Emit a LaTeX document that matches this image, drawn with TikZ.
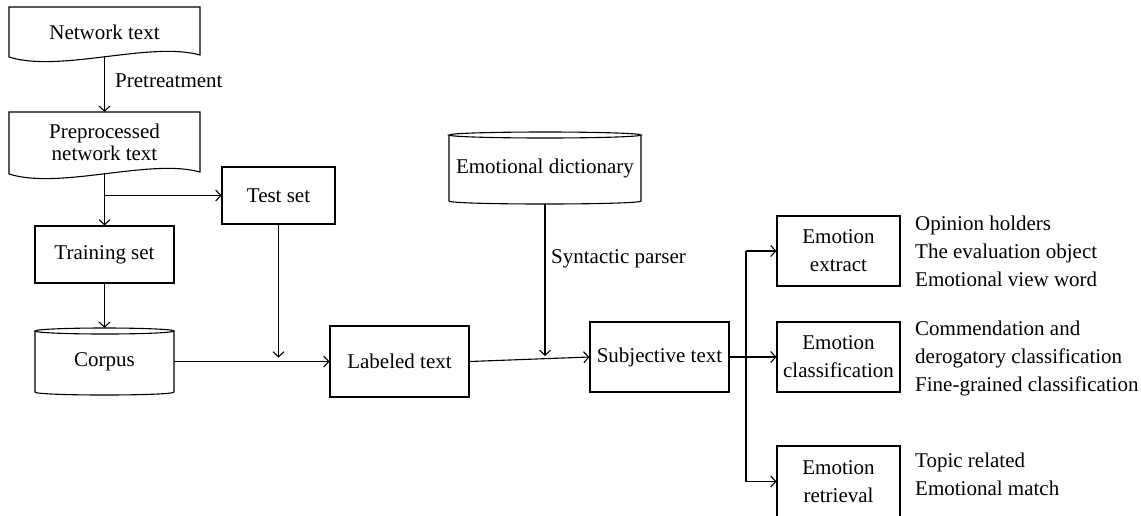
\documentclass[tikz,border=0pt]{standalone}
\usepackage{fontspec}
\setmainfont{Liberation Serif}
\usetikzlibrary{arrows.meta,calc}
\begin{document}
\begin{tikzpicture}[x=1pt,y=-1pt,
  base/.style={font=\fontsize{21}{28}\selectfont, align=center, inner sep=0pt},
  box/.style={base, draw, line width=1.1pt},
  ln/.style={line width=1.1pt},
  arr/.style={ln, -{Straight Barb[length=5pt,width=11pt]}},
  lbl/.style={base, anchor=west, align=left}]
\useasboundingbox (0,0) rectangle (1141,515);

% document shapes
\node[base, minimum width=191pt, minimum height=50pt] (net) at (104.5,32) {Network text};
\draw[ln] (9,7) -- (200,7) -- (200,55) .. controls (150,41) and (60,73) .. (9,57) -- cycle;
\node[base, minimum width=191pt, minimum height=61pt, font=\fontsize{21}{22}\selectfont] (pre) at (104.5,142.5) {Preprocessed\\network text};
\draw[ln] (9,112) -- (200,112) -- (200,172) .. controls (150,158) and (60,190) .. (9,174) -- cycle;

% boxes
\node[box, minimum width=113pt, minimum height=57pt] (test) at (278.5,195.5) {Test set};
\node[box, minimum width=139pt, minimum height=57pt] (train) at (104.5,254.5) {Training set};
\node[box, minimum width=139pt, minimum height=71pt] (lab) at (399.5,361.5) {Labeled text};
\node[box, minimum width=139pt, minimum height=70pt] (subj) at (659.5,357) {Subjective text};
\node[box, minimum width=123pt, minimum height=70pt] (ext) at (838.5,251) {Emotion\\extract};
\node[box, minimum width=123pt, minimum height=70pt] (cls) at (838.5,357) {Emotion\\classification};
\node[box, minimum width=123pt, minimum height=71pt] (ret) at (838.5,481.5) {Emotion\\retrieval};

% cylinders
\node[base, minimum width=139pt, minimum height=67pt] (corpus) at (104.5,361.5) {Corpus};
\draw[ln] (104.5,331) ellipse [x radius=69.5, y radius=3];
\draw[ln] (35,331) -- (35,392) .. controls (35,396) and (174,396) .. (174,392) -- (174,331);
\node[base, minimum width=192pt, minimum height=72pt] (dict) at (545,168) {Emotional dictionary};
\draw[ln] (545,135) ellipse [x radius=96, y radius=3];
\draw[ln] (449,135) -- (449,201) .. controls (449,205) and (641,205) .. (641,201) -- (641,135);

% labels
\node[base, anchor=west] (pl) at (115,81) {Pretreatment};
\node[base, anchor=west] (sp) at (551,259) {Syntactic parser};
\node[lbl] (t1) at (915,251) {Opinion holders\\The evaluation object\\Emotional view word};
\node[lbl] (t2) at (915,358) {Commendation and\\derogatory classification\\Fine-grained classification};
\node[lbl] (t3) at (915,474) {Topic related\\Emotional match};

% connectors
\draw[arr] (net.south) -- (pre.north);
\draw[arr] (pre.south) -- (train.north);
\coordinate (b1) at (pre.south |- test.west);
\draw[arr] (b1) -- (test.west);
\draw[arr] (train.south) -- (corpus.north);
\draw[arr] (corpus.east) -- (lab.west);
\coordinate (j1) at ($(test.south |- lab.west)+(0,-4)$);
\draw[arr] (test.south) -- (j1);
\draw[arr] (lab.east) -- (subj.west);
\coordinate (j2) at (545,356);
\draw[arr] (dict.south) -- (j2);
\coordinate (t) at (746,357);
\draw[arr] (subj.east) -- (cls.west);
\draw[ln] (t |- ext.west) -- (t |- ret.west);
\draw[arr] (t |- ext.west) -- (ext.west);
\draw[arr] (t |- ret.west) -- (ret.west);
\end{tikzpicture}
\end{document}
